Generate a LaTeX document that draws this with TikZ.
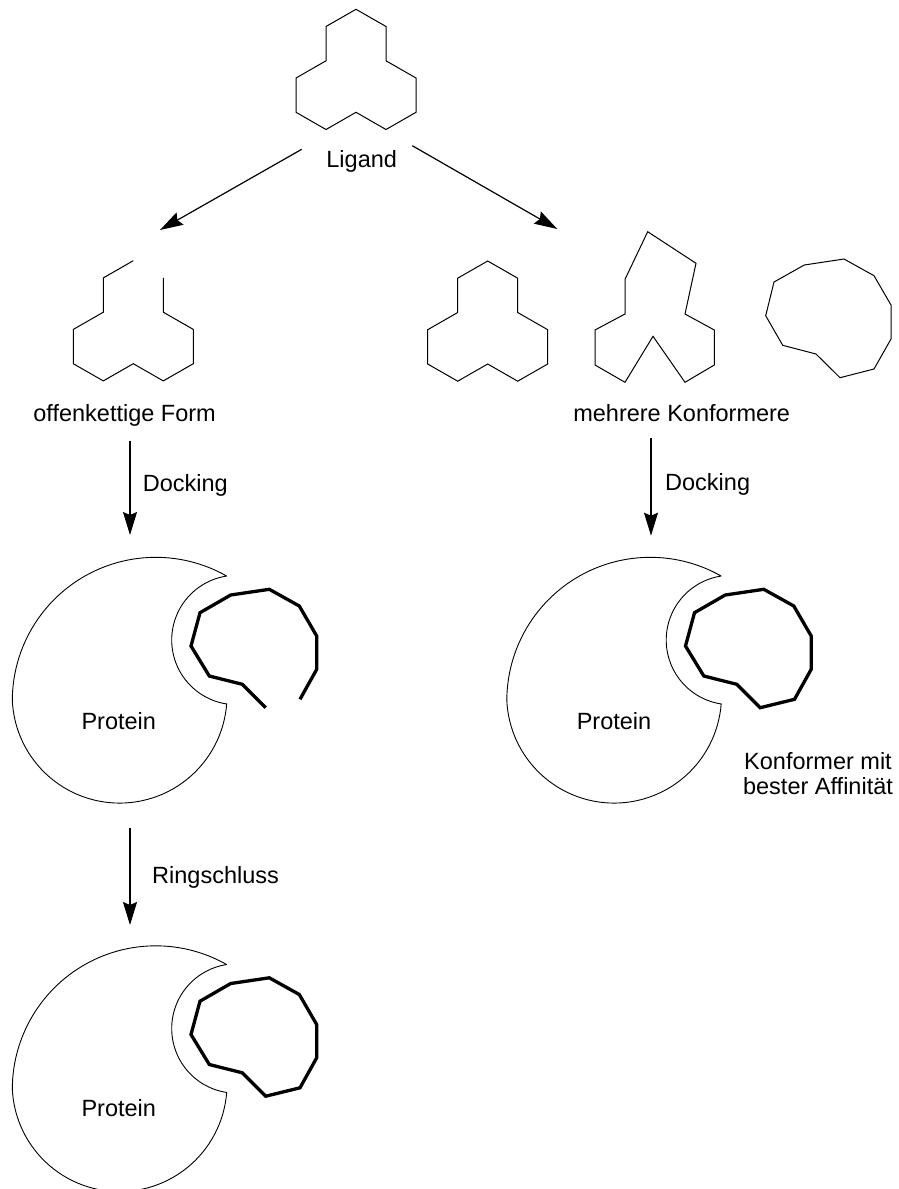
\documentclass[tikz,border=0pt]{standalone}
\usepackage{fontspec}
\setmainfont{Liberation Sans}
\usetikzlibrary{arrows.meta}
\newcommand\protoutline{%
  plot[domain=-60.4:-180, samples=60] ({155.8+143.5*cos(\x)},{700.8+143.5*sin(\x)})
  -- plot[domain=177.7:4.1, samples=60] ({119.6+107.4*cos(\x)},{695.7+107.4*sin(\x)})
  -- plot[domain=98.7:261.4, samples=50] ({236.4+64.7*cos(\x)},{640+64.7*sin(\x)}) -- cycle}
\newcommand\trefoilclosed{(0,0) -- (30,17.2) -- (30,51.5) -- (60,68.7) -- (60,103) -- (30,120.2) -- (0,103) -- (-30,120.2) -- (-60,103) -- (-60,68.7) -- (-30,51.5) -- (-30,17.2) -- cycle}
\newcommand\trefoilopen{(30,17.2) -- (30,51.5) -- (60,68.7) -- (60,103) -- (30,120.2) -- (0,103) -- (-30,120.2) -- (-60,103) -- (-60,68.7) -- (-30,51.5) -- (-30,17.2) -- (0,0)}
\newcommand\bondopen{(300,699.3) -- (316.7,669.3) -- (316.7,636) -- (299.3,606) -- (269.3,589.3) -- (230.7,595) -- (200,612.7) -- (191,646) -- (209.3,676) -- (242.3,684.3) -- (265.7,707.7)}
\begin{document}
\begin{tikzpicture}[x={(1pt,0)}, y={(0,-1pt)},
  thinline/.style={line width=1pt, line join=miter},
  protline/.style={line width=0.9pt},
  boldlig/.style={line width=3.3pt, line join=miter},
  arr/.style={line width=1.2pt, -{Stealth[length=23pt,width=14pt,inset=3pt]}},
  lbl/.style={font=\fontsize{23.5}{28}\selectfont, inner sep=0pt}]
\useasboundingbox (0,0) rectangle (898,1189);
\fill[white] (0,0) rectangle (898,1189);

% top ligand
\draw[thinline, shift={(356,9.3)}] \trefoilclosed;
\node[lbl, anchor=base] (lig) at (361.7,167.7) {Ligand};

% open chain form
\draw[thinline, shift={(133.3,260.7)}] \trefoilopen;
\node[lbl, anchor=base east] (offen) at (216,421.7) {offenkettige Form};

% conformers
\draw[thinline, shift={(487.7,261)}] \trefoilclosed;
\draw[thinline] (647.7,231.7) -- (696,263.3) -- (685,314) -- (714.3,330) -- (714.3,365) -- (685,382.3) -- (653,336.3) -- (625,382.3) -- (595,365) -- (595,330) -- (625,314) -- (625,279.3) -- cycle;
\draw[thinline] (804.3,265) -- (844,259) -- (874,275.7) -- (891,305) -- (891,339) -- (874,369) -- (840,377.7) -- (816,354) -- (782.7,345.3) -- (765.7,315.7) -- (774,282) -- cycle;
\node[lbl, anchor=base] (mehr) at (681.7,421.7) {mehrere Konformere};

% top arrows
\coordinate (t1s) at (301.7,149.3);
\coordinate (t1e) at (160,230);
\coordinate (t2s) at (412.3,145.7);
\coordinate (t2e) at (557.3,229);
\draw[arr] (t1s) -- (t1e);
\draw[arr] (t2s) -- (t2e);

% docking arrows
\coordinate (d1s) at (130,440.7);
\coordinate (d1e) at (130,535);
\draw[arr] (d1s) -- (d1e);
\node[lbl, anchor=base west] (dock1) at (142.7,491) {Docking};
\coordinate (d2s) at (651,438.3);
\coordinate (d2e) at (651,535.7);
\draw[arr] (d2s) -- (d2e);
\node[lbl, anchor=base west] (dock2) at (665,490) {Docking};

% protein 1
\draw[protline] \protoutline;
\draw[boldlig] \bondopen;
\node[lbl, anchor=base] (prot1) at (118.8,729.3) {Protein};

% protein 2
\begin{scope}[shift={(494.5,0)}]
\draw[protline] \protoutline;
\draw[boldlig] \bondopen -- cycle;
\end{scope}
\node[lbl, anchor=base] (prot2) at (614,729.3) {Protein};
\node[lbl, align=center, anchor=north] (konf) at (818,752) {Konformer mit\\[-3pt]bester Affinität};

% ring closure arrow
\coordinate (r1s) at (130,828);
\coordinate (r1e) at (130,925);
\draw[arr] (r1s) -- (r1e);
\node[lbl, anchor=base west] (ring) at (152,883) {Ringschluss};

% protein 3
\begin{scope}[shift={(0,388.5)}]
\draw[protline] \protoutline;
\draw[boldlig] \bondopen -- cycle;
\end{scope}
\node[lbl, anchor=base] (prot3) at (118.8,1116.7) {Protein};
\end{tikzpicture}
\end{document}
